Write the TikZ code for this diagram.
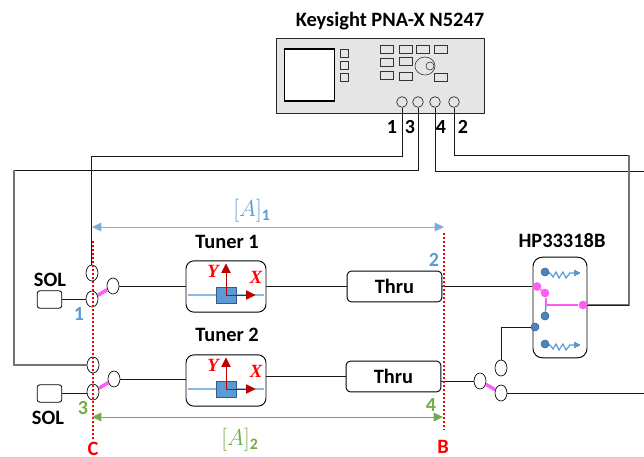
\documentclass[tikz,border=0pt]{standalone}
\usepackage{fontspec}
\setmainfont{Carlito}
\newfontfamily\axisfont{Liberation Serif}
\usepackage{amsmath}
\usetikzlibrary{arrows.meta, shapes.geometric}
\definecolor{lblue}{HTML}{5B9BD5}
\definecolor{lgreen}{HTML}{70AD47}
\definecolor{pinkline}{HTML}{FF5CF4}
\definecolor{darkred}{HTML}{C00000}
\definecolor{portblue}{HTML}{4A86BE}
\tikzset{
  wire/.style={draw=black!90, line width=0.7pt},
  grayline/.style={draw=black!55, line width=0.9pt},
  port/.style={circle, draw=black!85, line width=0.5pt, minimum size=8pt, inner sep=0pt},
  keybox/.style={draw=black!80, line width=0.5pt, minimum width=10pt, minimum height=6pt, inner sep=0pt},
  switchpin/.style={ellipse, draw=black, line width=0.5pt, minimum width=9pt, minimum height=12pt, inner sep=0pt},
  solbox/.style={draw=black, rounded corners=2pt, line width=0.6pt, minimum width=18.5pt, minimum height=13pt, inner sep=0pt},
  tunerbox/.style={draw=black, rounded corners=6pt, line width=0.7pt, minimum width=60pt, minimum height=38.5pt, inner sep=0pt},
  thrubox/.style={draw=black, rounded corners=3pt, line width=0.7pt, minimum width=71pt, minimum height=23pt, inner sep=0pt, font=\bfseries\fontsize{15.3}{15.3}\selectfont},
  pindot/.style={circle, fill=pinkline, minimum size=6.5pt, inner sep=0pt},
  bluedot/.style={circle, fill=portblue, draw=portblue!70!black, line width=0.4pt, minimum size=6pt, inner sep=0pt},
  pinkbar/.style={draw=pinkline, line width=2.6pt},
  plane/.style={draw=red, line width=2pt, dash pattern=on 1.6pt off 1.4pt},
  boldlabel/.style={font=\bfseries\fontsize{15.3}{15.3}\selectfont, inner sep=0pt},
  axislabel/.style={font=\axisfont\bfseries\itshape\fontsize{14}{14}\selectfont, text=red, inner sep=0pt},
  numlabel/.style={font=\bfseries\fontsize{15}{15}\selectfont, inner sep=0pt},
  planelabel/.style={font=\bfseries\fontsize{15.3}{15.3}\selectfont, text=red, inner sep=0pt},
  span/.style={line width=0.6pt, {Triangle[length=7pt,width=6.5pt]}-{Triangle[length=7pt,width=6.5pt]}},
}
\begin{document}
\begin{tikzpicture}[x=0.75pt, y=-0.75pt]
  \useasboundingbox (0,0) rectangle (644,457);

  % analyser front panel
  \node[draw=black!85, fill=black!10, line width=0.7pt, minimum width=156pt, minimum height=56pt, inner sep=0pt] (pna) at (380,76) {};
  \node[draw=black, fill=white, line width=0.8pt, minimum width=38pt, minimum height=39pt, inner sep=0pt] (screen) at (309.5,75) {};
  \node[boldlabel] (title) at (390,21) {Keysight PNA-X N5247};
  \foreach \y [count=\k] in {53,65,77}
    \node[keybox, minimum width=6pt] (side\k) at (344,\y) {};
  \foreach \x/\y [count=\k] in {387/49.5,406/49.5,422.5/49.5,441/49.5,387/62,406/61,387/75,406/76,441/77}
    \node[keybox] (key\k) at (\x,\y) {};
  \node[ellipse, draw=black!85, minimum width=15pt, minimum height=13.5pt, inner sep=0pt] (knob) at (425,66) {};
  \node[circle, draw=black!85, minimum size=6pt, inner sep=0pt] (knobin) at (430,66) {};
  \foreach \n/\x in {1/402,3/418,4/435,2/454}
    \node[port] (port\n) at (\x,102) {};
  \node[numlabel] (lab1) at (392,127) {1};
  \node[numlabel] (lab3) at (410,127) {3};
  \node[numlabel] (lab4) at (441,127) {4};
  \node[numlabel] (lab2) at (463,127) {2};

  % tuners and thrus
  \foreach \n/\y in {1/286.5,2/380.5} {
    \node[tunerbox] (tuner\n) at (226,\y) {};
    \draw[lblue!70, line width=0.8pt] (188,\y+8.5) -- (264,\y+8.5);
    \node[draw=portblue!70!black, fill=lblue, line width=0.6pt, minimum width=15.5pt, minimum height=12pt, inner sep=0pt] (slug\n) at (226.5,\y+8.5) {};
    \draw[darkred, line width=0.6pt, -{Triangle[length=7pt,width=7pt]}] (226,\y+8.5) -- (226,\y-23);
    \draw[darkred, line width=0.6pt, -{Triangle[length=7pt,width=7pt]}] (226,\y+8.5) -- (255.5,\y+8.5);
    \node[axislabel] (ylab\n) at (213,\y-15) {Y};
    \node[axislabel] (xlab\n) at (256,\y-9) {X};
  }
  \node[boldlabel] (name1) at (227,242) {Tuner 1};
  \node[boldlabel] (name2) at (227,335) {Tuner 2};
  \node[thrubox] (thru1) at (394.5,286.5) {Thru};
  \node[thrubox] (thru2) at (393.5,376.5) {Thru};

  % input switches
  \node[switchpin] (inA) at (92,273) {};
  \node[switchpin] (inB) at (92,299) {};
  \node[switchpin] (inC) at (113,286) {};
  \node[switchpin] (inD) at (93,365) {};
  \node[switchpin] (inE) at (93,392) {};
  \node[switchpin] (inF) at (114,379) {};
  \draw[pinkbar] (inB) -- (inC);
  \draw[pinkbar] (inE) -- (inF);
  \node[solbox] (sol1) at (49.5,299.5) {};
  \node[solbox] (sol2) at (49.5,393.5) {};
  \node[boldlabel] (sollab1) at (50,280) {SOL};
  \node[boldlabel] (sollab2) at (48,418) {SOL};
  \draw[wire] (sol1) -- (inB.west |- sol1);
  \draw[wire] (sol2) -- (inE.west |- sol2);
  \draw[wire] (inC) -- (tuner1.west |- inC);
  \draw[wire] (inF) -- (tuner2.west |- inF);
  \draw[wire] (tuner1.east |- thru1) -- (thru1);
  \draw[wire] (tuner2.east |- thru2) -- (thru2);

  % switch box
  \node[draw=black, rounded corners=7pt, line width=0.7pt, minimum width=40.5pt, minimum height=75.5pt, inner sep=0pt] (hp) at (560,307.5) {};
  \node[boldlabel] (hplab) at (562,241) {HP33318B};
  \foreach \y in {272,344} {
    \draw[lblue, line width=0.9pt] (545,\y) -- (550,\y+1) -- (553,\y+5) -- (556,\y) -- (559,\y+6) -- (563,\y) -- (566,\y+6) -- (570,\y+1) -- (575,\y+1);
    \draw[lblue, line width=0.9pt] (575,\y-2) -- (575,\y+4) (577,\y-1) -- (577,\y+3) (579,\y) -- (579,\y+2);
    \node[bluedot] at (545,\y) {};
  }
  \node[pindot] (hpa) at (537,286.5) {};
  \node[pindot] (hpb) at (545,293) {};
  \coordinate (hpm) at (546,305);
  \node[bluedot] (hpc) at (545,316) {};
  \node[pindot] (hpd) at (583,305) {};
  \node[bluedot] (hpe) at (535,327) {};
  \draw[lblue, line width=1pt] (hpm) -- (hpc);
  \draw[pinkline, line width=1pt] (hpb.south -| hpm) -- (hpm) -- (hpd);
  \draw[pinkline, line width=1.8pt] (hpa) -- (hpb);
  \draw[wire] (thru1) -- (hpa);

  % output switch
  \node[switchpin] (outA) at (501,368) {};
  \node[switchpin] (outB) at (480,381) {};
  \node[switchpin] (outC) at (501,393) {};
  \draw[pinkbar] (outB) -- (outC);
  \draw[wire] (thru2.east |- outB) -- (outB);
  \draw[wire] (hpe) -| (outA);
  \coordinate (edgeC) at (644,393);
  \draw[wire] (outC) -- (edgeC);

  % cables
  \coordinate (kneeA) at (91,156);
  \coordinate (kneeB) at (14,170);
  \coordinate (edgeD) at (644,171);
  \coordinate (kneeE) at (629,155);
  \draw[wire] (port1.south) |- (kneeA) -- (inA.north -| kneeA);
  \draw[wire] (port3.south) |- (kneeB);
  \draw[grayline] (kneeB) |- (inD.west);
  \draw[wire] (port4.south) |- (edgeD);
  \draw[wire] (port2.south) |- (kneeE);
  \draw[grayline] (kneeE) |- (hpd);
  \draw[wire] (hp.east |- hpd) -- (kneeE |- hpd);

  % reference planes
  \coordinate (planeCt) at (93,241);
  \coordinate (planeCb) at (93,440);
  \coordinate (planeBt) at (444,233);
  \coordinate (planeBb) at (444,430);
  \draw[plane] (planeCt) -- (planeCb);
  \draw[plane] (planeBt) -- (planeBb);
  \node[planelabel] (labC) at (93,448.5) {C};
  \node[planelabel] (labB) at (443,447) {B};

  % measured spans
  \coordinate (spanAl) at (92,227);
  \coordinate (spanAr) at (444,227);
  \coordinate (spanBl) at (92,417);
  \coordinate (spanBr) at (443,417);
  \draw[lblue!80, span] (spanAl) -- (spanAr);
  \draw[lgreen, span] (spanBl) -- (spanBr);
  \node[text=lblue, font=\fontsize{17}{17}\selectfont, inner sep=0pt] (matA) at (252,211) {$[A]_{\mathbf{1}}$};
  \node[text=lgreen, font=\fontsize{17}{17}\selectfont, inner sep=0pt] (matB) at (240,440) {$[A]_{\mathbf{2}}$};
  \node[numlabel, text=lblue] (num1) at (79,314) {1};
  \node[numlabel, text=lblue] (num2) at (434,260) {2};
  \node[numlabel, text=lgreen] (num3) at (83,408) {3};
  \node[numlabel, text=lgreen] (num4) at (431,405) {4};
\end{tikzpicture}
\end{document}
